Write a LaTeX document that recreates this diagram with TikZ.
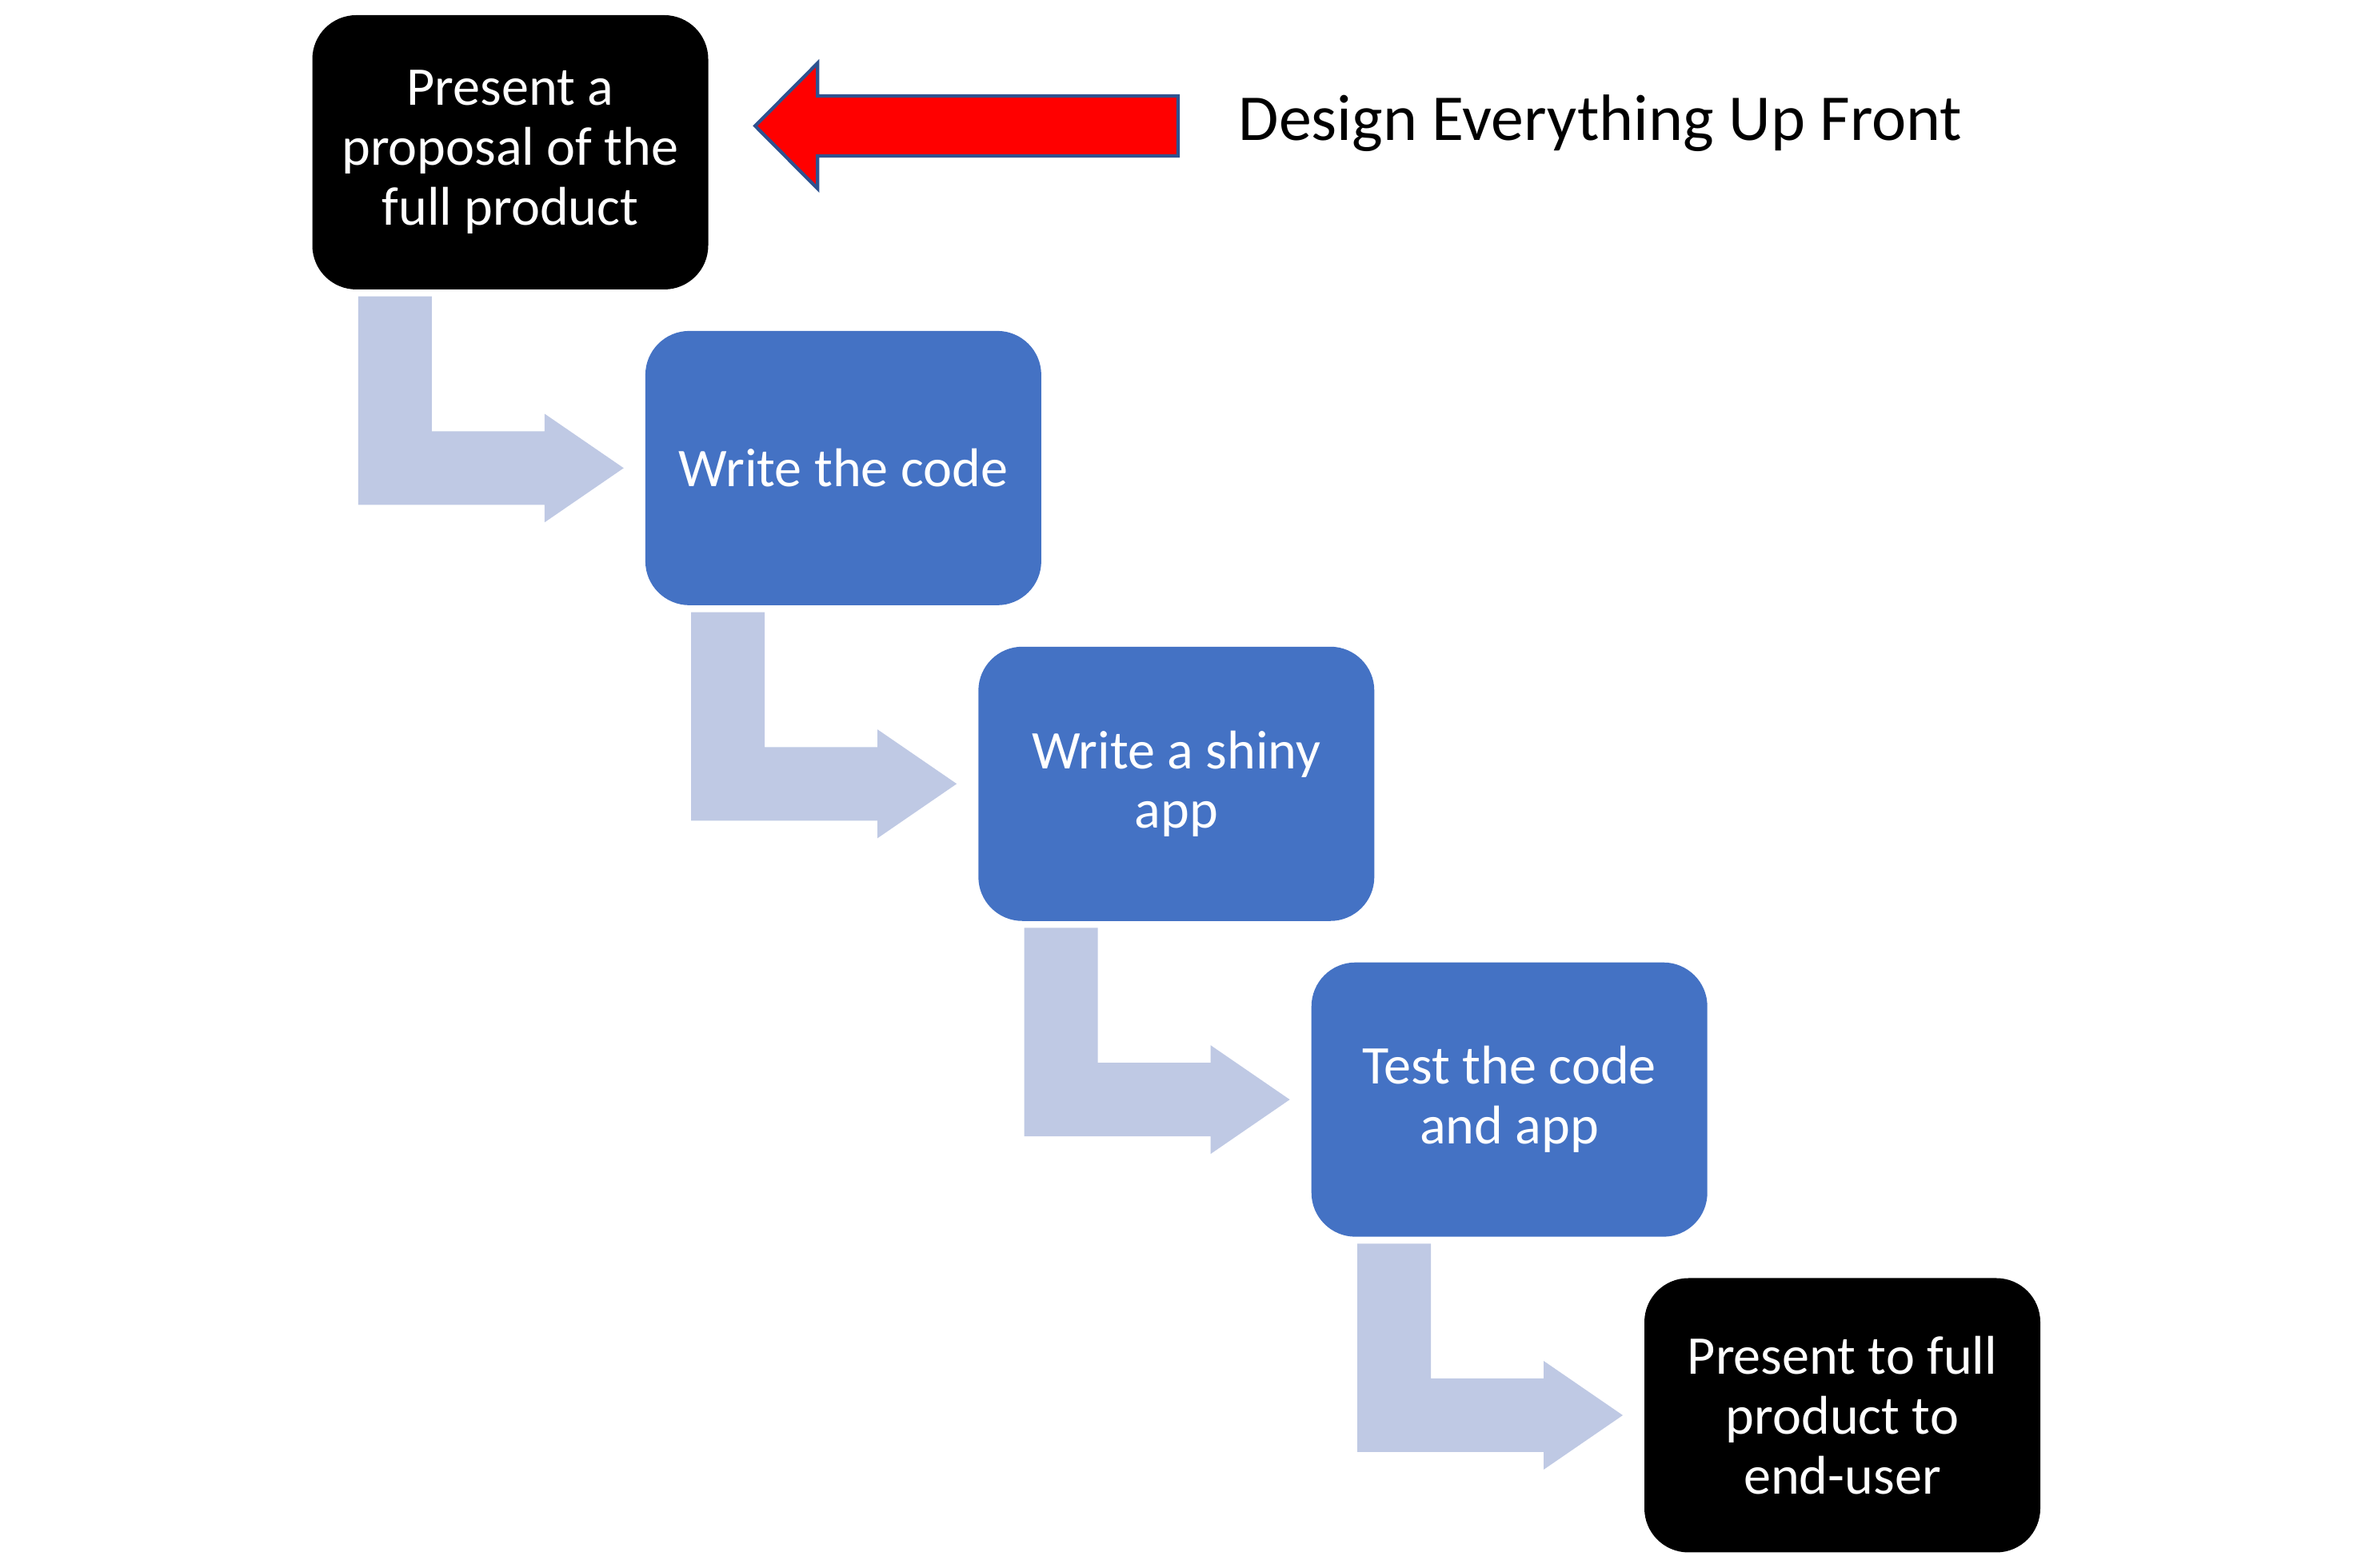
\documentclass[tikz,border=0pt]{standalone}
\usepackage{fontspec}
\setmainfont{Carlito}
\usepackage{xcolor}
\usetikzlibrary{calc}
\definecolor{stepblue}{HTML}{4472C4}
\definecolor{elbowblue}{HTML}{BFC9E4}
\definecolor{edgeblue}{HTML}{2F528F}

\begin{document}
\begin{tikzpicture}[
  stage/.style={rounded corners=0.55cm,minimum width=4.95cm,minimum height=3.43cm,
    align=center,text=white,inner sep=0pt,
    font=\fontsize{19.4}{21.3}\selectfont},
  blackstage/.style={stage,fill=black},
  bluestage/.style={stage,fill=stepblue},
  elbow/.style={fill=elbowblue}]
\useasboundingbox (0,0) rectangle (29.42,19.61);
\node[blackstage] (p1) at (6.38,17.705) {Present a\\proposal of the\\full product};
\node[bluestage] (p2) at (10.544,13.756) {Write the code};
\node[bluestage] (p3) at (14.708,9.807) {Write a shiny\\app};
\node[bluestage] (p4) at (18.872,5.858) {Test the code\\and app};
\node[blackstage] (p5) at (23.035,1.91) {Present to full\\product to\\end-user};
\node[anchor=west,inner sep=0pt,font=\fontsize{23.3}{28}\selectfont] (design) at (15.48,18.07) {Design Everything Up Front};
\foreach \a/\b in {p1/p2,p2/p3,p3/p4,p4/p5}
  \fill[elbow] let \p1=(\a.south west), \p2=(\b.west) in
    (\x1+0.58cm,\y1-0.08cm) -- (\x1+1.50cm,\y1-0.08cm) -- (\x1+1.50cm,\y2+0.46cm)
    -- (\x1+2.91cm,\y2+0.46cm) -- (\x1+2.91cm,\y2+0.68cm) -- (\x1+3.90cm,\y2)
    -- (\x1+2.91cm,\y2-0.68cm) -- (\x1+2.91cm,\y2-0.46cm) -- (\x1+0.58cm,\y2-0.46cm) -- cycle;
\draw[fill=red,draw=edgeblue,line width=1.2pt] let \p1=(p1.east), \p2=(design.west) in
  (\x2-0.75cm,18.41) -- (\x1+1.36cm,18.41) -- (\x1+1.36cm,18.82) -- (\x1+0.58cm,18.035)
  -- (\x1+1.36cm,17.25) -- (\x1+1.36cm,17.66) -- (\x2-0.75cm,17.66) -- cycle;
\end{tikzpicture}
\end{document}
